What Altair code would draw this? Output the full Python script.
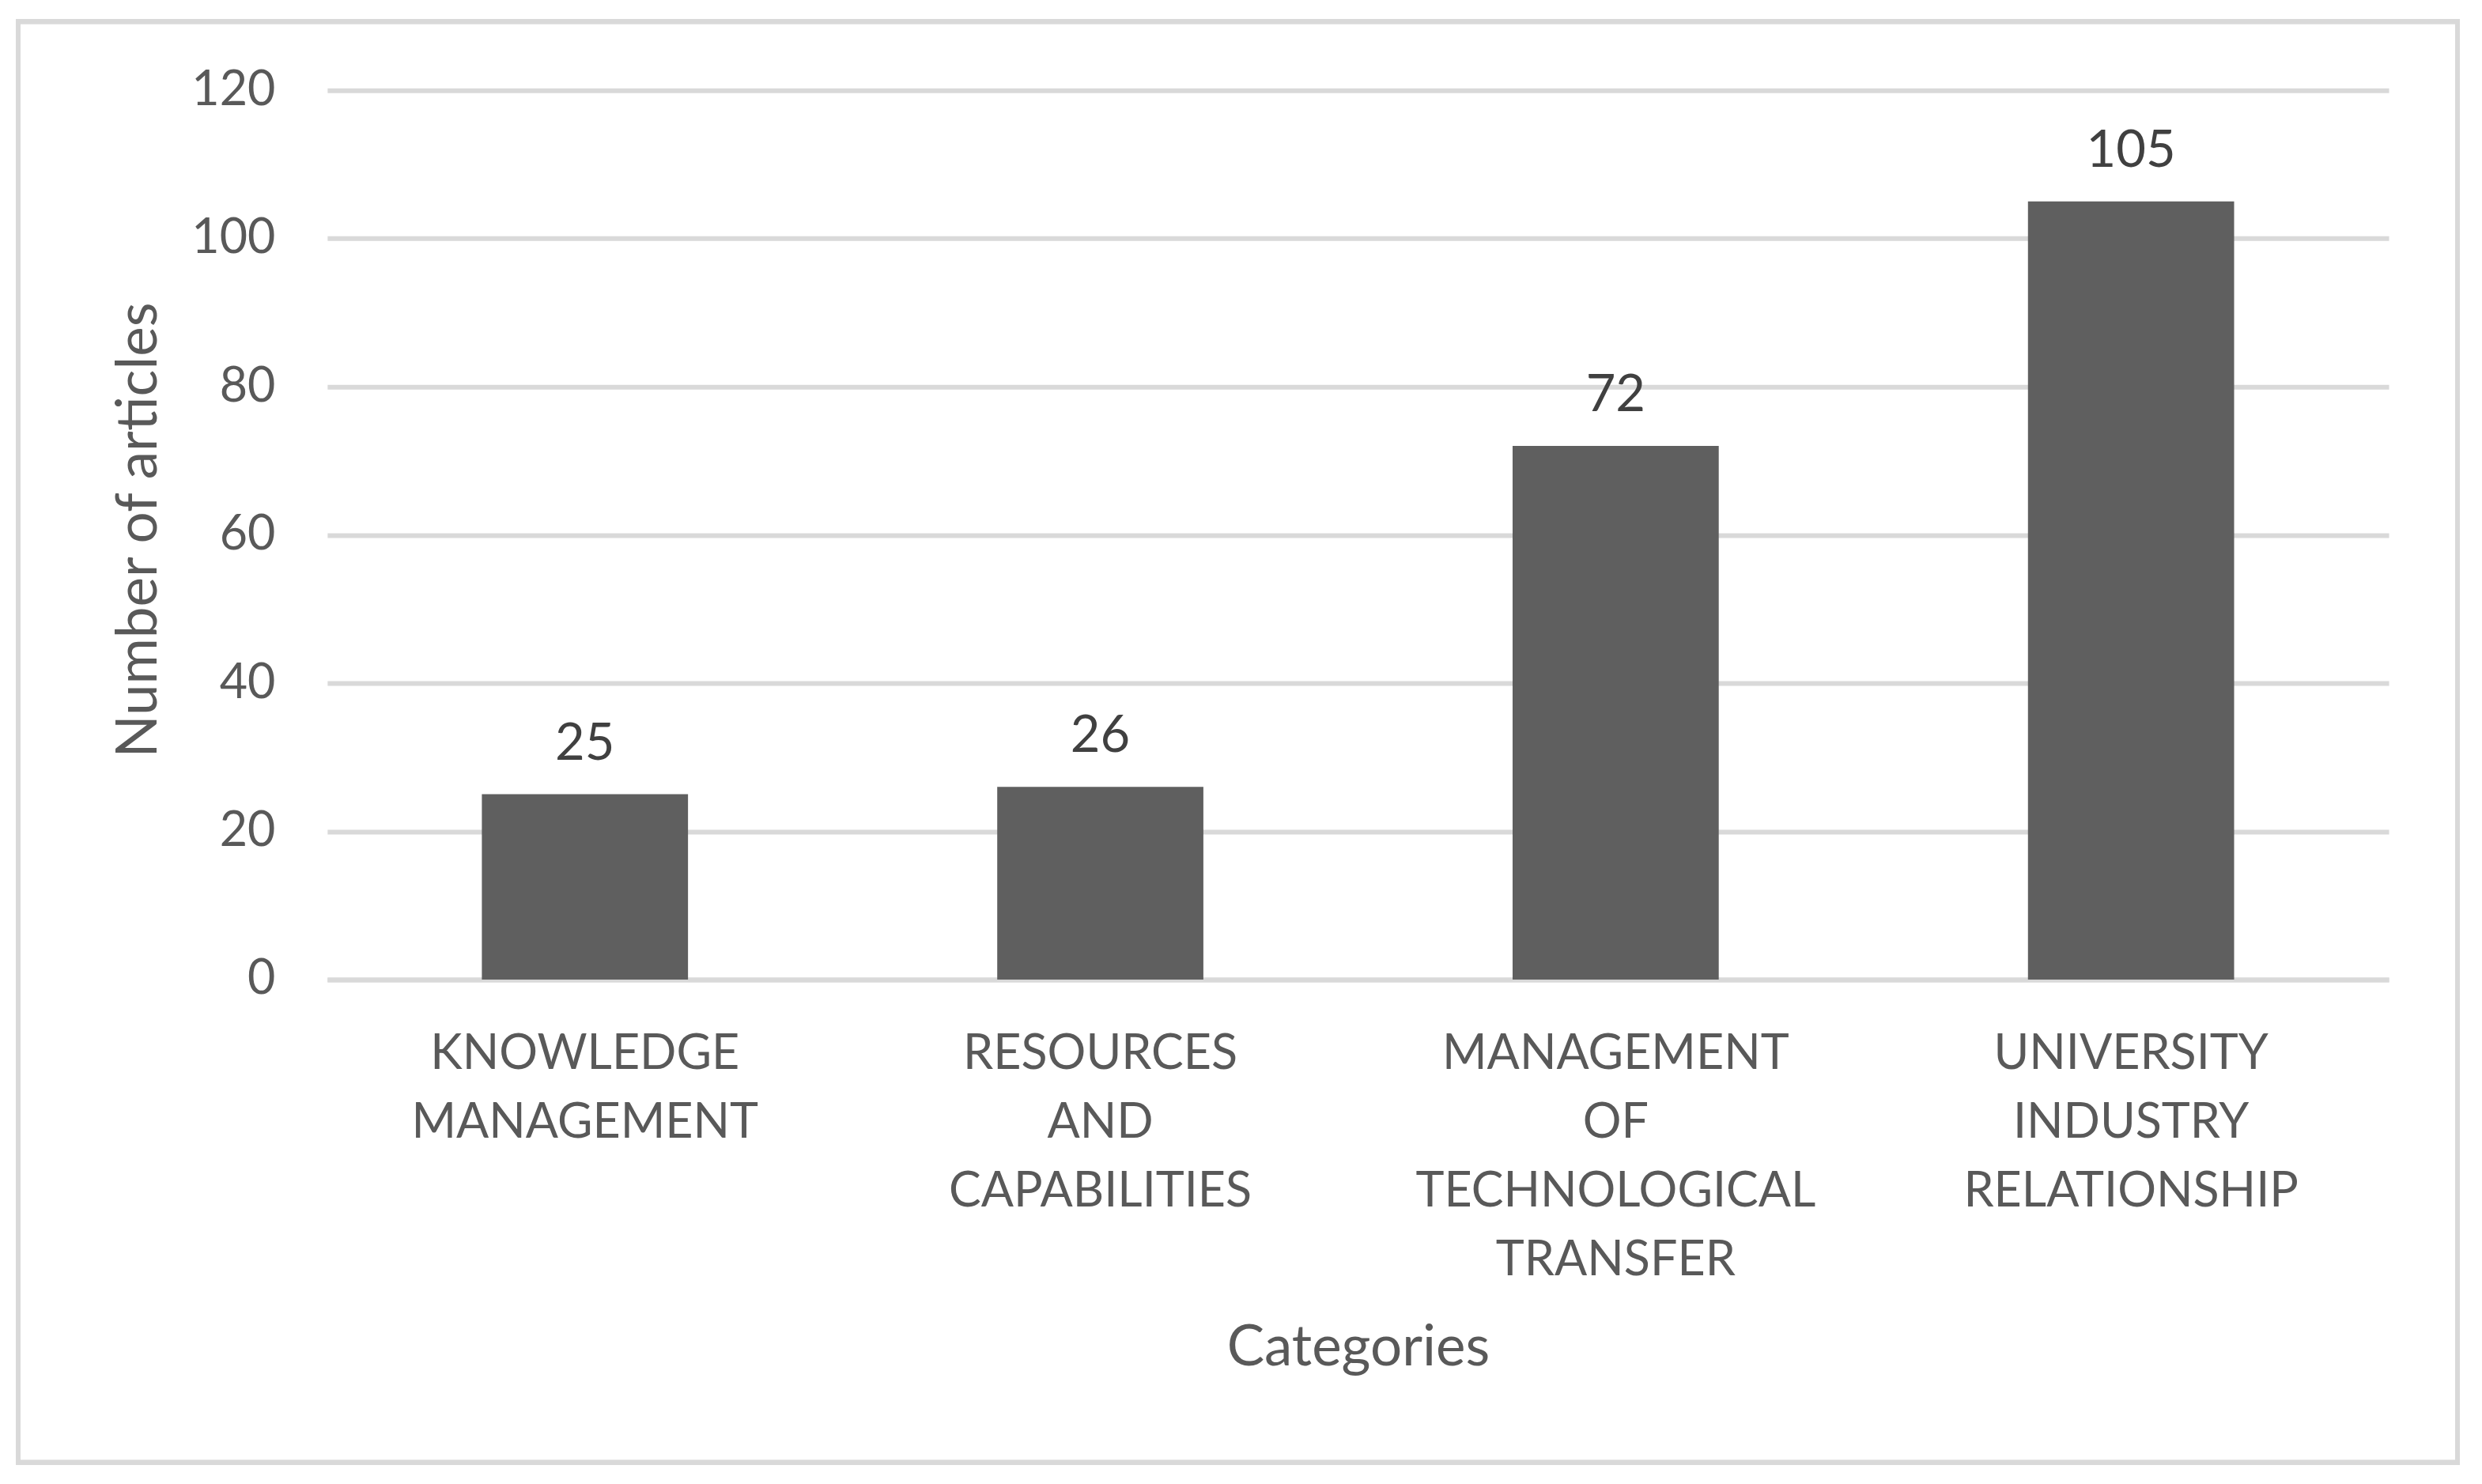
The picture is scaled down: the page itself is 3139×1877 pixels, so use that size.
import altair as alt
import pandas as pd

categories = [
    "KNOWLEDGE MANAGEMENT",
    "RESOURCES AND CAPABILITIES",
    "MANAGEMENT OF TECHNOLOGICAL TRANSFER",
    "UNIVERSITY INDUSTRY RELATIONSHIP",
]
articles = [25, 26, 72, 105]
y_ticks = [0, 20, 40, 60, 80, 100, 120]

df = pd.DataFrame({"category": categories, "articles": articles})

FONT = "Lato"
W, H = 2608, 1125

x_enc = alt.X(
    "category:N",
    sort=categories,
    scale=alt.Scale(paddingInner=0.6, paddingOuter=0.3),
    axis=alt.Axis(
        title="Categories",
        labelExpr="split(datum.label, ' ')",
        labelAngle=0,
        labelBaseline="alphabetic",
        labelPadding=113,
        labelLineHeight=87,
        labelFontSize=61,
        labelColor="#595959",
        labelFont=FONT,
        labelLimit=0,
        ticks=False,
        tickSize=0,
        domain=True,
        domainColor="#d9d9d9",
        domainWidth=6,
        titleFont=FONT,
        titleFontSize=71,
        titleFontWeight="normal",
        titleColor="#595959",
        titleBaseline="alphabetic",
        titleX=W / 2,
        titleY=488,
        titleAlign="center",
    ),
)

y_enc = alt.Y(
    "articles:Q",
    scale=alt.Scale(domain=[0, 120], nice=False),
    axis=alt.Axis(
        title="Number of articles",
        values=y_ticks,
        grid=True,
        gridColor="#d9d9d9",
        gridWidth=6,
        domain=False,
        ticks=False,
        tickSize=0,
        labelPadding=66,
        labelFontSize=61,
        labelColor="#595959",
        labelFont=FONT,
        titleFont=FONT,
        titleFontSize=71,
        titleFontWeight="normal",
        titleColor="#595959",
        titleAngle=-90,
        titleBaseline="alphabetic",
        titleAlign="center",
        titleX=-216,
        titleY=556,
    ),
)

bars = alt.Chart(df).mark_bar(color="#5f5f5f").encode(x=x_enc, y=y_enc)

labels = alt.Chart(df).mark_text(
    font=FONT, fontSize=65, color="#404040", baseline="alphabetic", dy=-44
).encode(x=alt.X("category:N", sort=categories), y="articles:Q", text="articles:Q")

frame = alt.Chart(df).mark_rect(
    fill=None, stroke="#d9d9d9", strokeWidth=6
).encode(
    x=alt.value(-391), x2=alt.value(2695), y=alt.value(-87), y2=alt.value(1736)
)

chart = (
    alt.layer(frame, bars, labels)
    .properties(
        width=W,
        height=H,
        autosize=alt.AutoSizeParams(type="none"),
        padding={"left": 406, "top": 106, "right": 110, "bottom": 620},
        background="white",
    )
    .configure_view(stroke=None)
)

chart.save("out.html", embed_options={"renderer": "svg", "actions": False})
